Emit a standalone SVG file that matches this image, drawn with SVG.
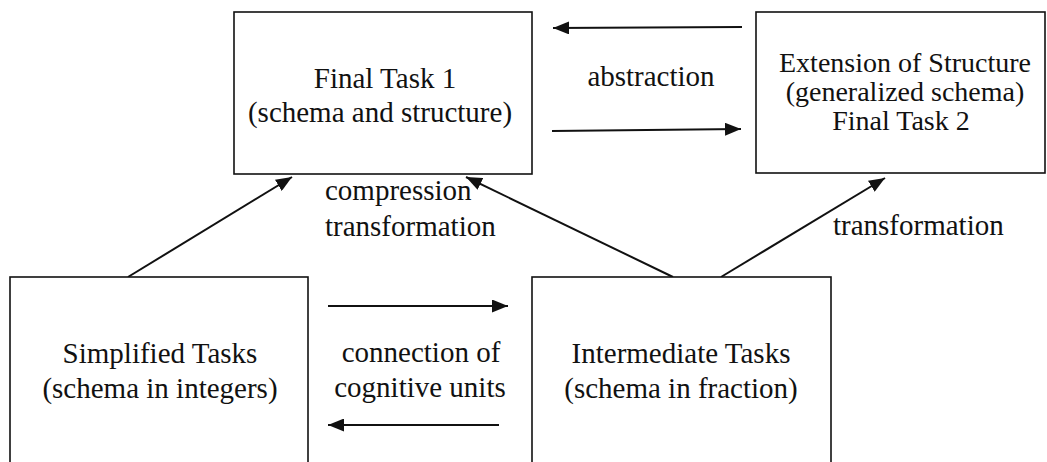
<svg xmlns="http://www.w3.org/2000/svg" width="1047" height="462" viewBox="0 0 1047 462">
<style>
.box{fill:#fff;stroke:#111;stroke-width:1.6}
.t{font-family:"Liberation Serif","Times New Roman",serif;font-size:29px;fill:#111}
.s{font-size:28px}
.c{text-anchor:middle}
.e{stroke:#111;stroke-width:2;fill:none}
</style>
<defs>
<marker id="ah" markerUnits="userSpaceOnUse" markerWidth="17" markerHeight="13" refX="16" refY="6.5" orient="auto">
<path d="M0,0 L16,6.5 L0,13 z" fill="#111"/>
</marker>
</defs>
<rect width="1047" height="462" fill="#fff"/>
<g id="connectors">
<line class="e" x1="742" y1="27" x2="553" y2="28" marker-end="url(#ah)"/>
<line class="e" x1="552" y1="131" x2="741" y2="129" marker-end="url(#ah)"/>
<line class="e" x1="128" y1="277" x2="292" y2="177" marker-end="url(#ah)"/>
<line class="e" x1="673" y1="277" x2="466" y2="177" marker-end="url(#ah)"/>
<line class="e" x1="721" y1="277" x2="885" y2="178" marker-end="url(#ah)"/>
<line class="e" x1="328" y1="306" x2="508" y2="306" marker-end="url(#ah)"/>
<line class="e" x1="499" y1="425" x2="328" y2="425" marker-end="url(#ah)"/>
<text class="t c" x="651" y="86">abstraction</text>
<text class="t" x="325" y="200">compression</text>
<text class="t" x="325" y="236">transformation</text>
<text class="t" x="833" y="235">transformation</text>
<text class="t c" x="421" y="362">connection of</text>
<text class="t c" x="420" y="397">cognitive units</text>
</g>
<g id="final1">
<rect class="box" x="234" y="12" width="298" height="162"/>
<text class="t c" x="385" y="88">Final Task 1</text>
<text class="t c" x="380" y="122">(schema and structure)</text>
</g>
<g id="extension">
<rect class="box" x="756" y="12" width="289" height="161"/>
<text class="t s c" x="905" y="72">Extension of Structure</text>
<text class="t s c" x="905" y="101">(generalized schema)</text>
<text class="t s c" x="901" y="130">Final Task 2</text>
</g>
<g id="simplified">
<rect class="box" x="10" y="277" width="298" height="200"/>
<text class="t c" x="160" y="363">Simplified Tasks</text>
<text class="t c" x="160" y="398">(schema in integers)</text>
</g>
<g id="intermediate">
<rect class="box" x="532" y="277" width="299" height="200"/>
<text class="t c" x="681" y="363">Intermediate Tasks</text>
<text class="t c" x="681" y="398">(schema in fraction)</text>
</g>
</svg>
